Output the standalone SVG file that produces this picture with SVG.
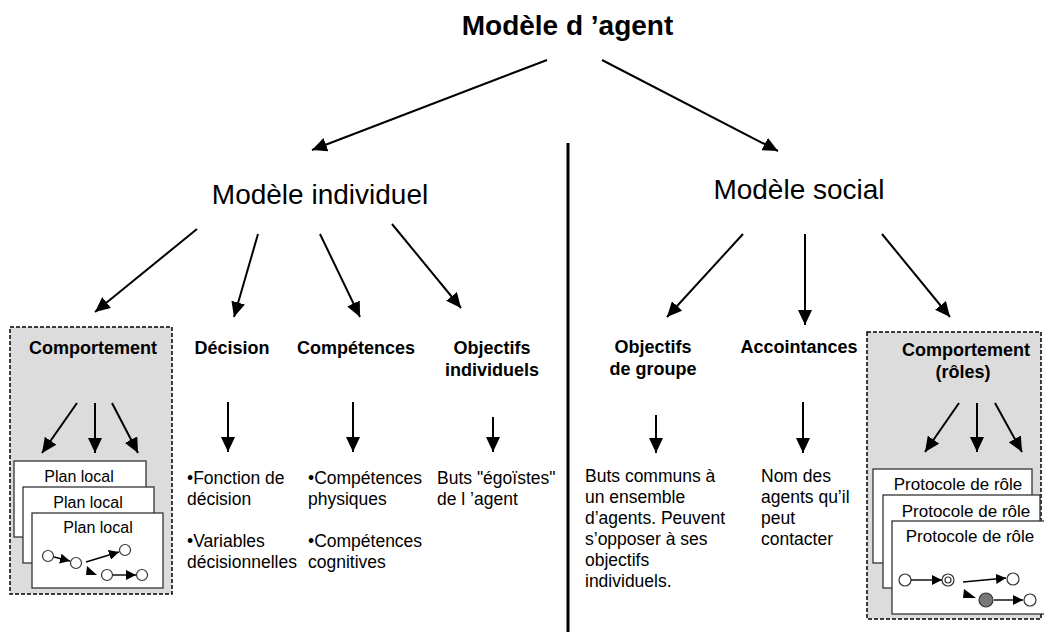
<svg xmlns="http://www.w3.org/2000/svg" width="1044" height="632" viewBox="0 0 1044 632">
<defs>
<marker id="ah" markerUnits="userSpaceOnUse" markerWidth="16" markerHeight="14" refX="15" refY="7" orient="auto">
<path d="M0,0 L15,7 L0,14 z" fill="#000"/>
</marker>
<marker id="ahs" markerUnits="userSpaceOnUse" markerWidth="11" markerHeight="10" refX="10" refY="5" orient="auto">
<path d="M0,0 L10,5 L0,10 z" fill="#000"/>
</marker>
<style>
text{font-family:"Liberation Sans",Arial,sans-serif;fill:#000}
.title{font-size:28px;font-weight:bold;text-anchor:middle}
.model{font-size:28px;text-anchor:middle}
.head{font-size:18px;font-weight:bold;text-anchor:middle}
.body{font-size:17.5px}
.small{font-size:16px;text-anchor:middle}
.proto{font-size:17px;text-anchor:middle}
.conn{stroke:#000;stroke-width:2;fill:none;marker-end:url(#ah)}
.inner{stroke:#000;stroke-width:1.4;fill:none;marker-end:url(#ahs)}
.group{fill:#dcdcdc;stroke:#000;stroke-width:1.5;stroke-dasharray:4 2}
.card{fill:#fff;stroke:#333;stroke-width:1.3}
.st{fill:#fff;stroke:#333;stroke-width:1.2}
</style>
</defs>
<rect width="1044" height="632" fill="#fff"/>

<g id="divider"><line x1="568" y1="143" x2="568" y2="632" stroke="#000" stroke-width="3"/></g>

<g id="connectors">
<line class="conn" x1="547" y1="60" x2="312" y2="150"/>
<line class="conn" x1="602" y1="60" x2="778" y2="151"/>
<line class="conn" x1="197" y1="229" x2="95" y2="312"/>
<line class="conn" x1="258" y1="234" x2="234" y2="317"/>
<line class="conn" x1="320" y1="234" x2="360" y2="317"/>
<line class="conn" x1="392" y1="224" x2="461" y2="308"/>
<line class="conn" x1="743" y1="234" x2="667" y2="317"/>
<line class="conn" x1="805" y1="234" x2="805" y2="325"/>
<line class="conn" x1="882" y1="234" x2="950" y2="317"/>
<line class="conn" x1="228" y1="402" x2="228" y2="452"/>
<line class="conn" x1="353" y1="402" x2="353" y2="452"/>
<line class="conn" x1="493" y1="417" x2="493" y2="452"/>
<line class="conn" x1="656" y1="415" x2="656" y2="453"/>
<line class="conn" x1="803" y1="402" x2="803" y2="453"/>
</g>

<g id="agent"><text class="title" x="567.5" y="35">Modèle d ’agent</text></g>
<g id="individuel"><text class="model" x="320" y="204">Modèle individuel</text></g>
<g id="social"><text class="model" x="799" y="199">Modèle social</text></g>

<g id="comportement">
<rect class="group" x="10" y="327" width="162" height="267"/>
<text class="head" x="93" y="354">Comportement</text>
<line class="conn" x1="77" y1="403" x2="42" y2="453"/>
<line class="conn" x1="95" y1="403" x2="95" y2="453"/>
<line class="conn" x1="112" y1="403" x2="138" y2="453"/>
<rect class="card" x="14" y="461" width="132" height="76"/>
<text class="small" x="79" y="482">Plan local</text>
<rect class="card" x="23" y="487" width="131" height="76"/>
<text class="small" x="88" y="508">Plan local</text>
<rect class="card" x="32" y="513" width="131" height="75"/>
<text class="small" x="98" y="533">Plan local</text>
<circle class="st" cx="48" cy="556" r="5.5"/>
<line class="inner" x1="54" y1="557" x2="70" y2="561"/>
<circle class="st" cx="76" cy="563" r="5.5"/>
<line class="inner" x1="86" y1="562" x2="119" y2="552"/>
<circle class="st" cx="125" cy="550" r="5.5"/>
<polygon points="87,566 97,575 86,575" fill="#000"/>
<circle class="st" cx="107" cy="575" r="5.5"/>
<line class="inner" x1="113" y1="575" x2="136" y2="575"/>
<circle class="st" cx="142" cy="575" r="5.5"/>
</g>

<g id="decision">
<text class="head" x="232" y="354">Décision</text>
<text class="body" x="187" y="484">•Fonction de</text>
<text class="body" x="187" y="505">décision</text>
<text class="body" x="187" y="547">•Variables</text>
<text class="body" x="187" y="568">décisionnelles</text>
</g>

<g id="competences">
<text class="head" x="356" y="354">Compétences</text>
<text class="body" x="308" y="484">•Compétences</text>
<text class="body" x="308" y="505">physiques</text>
<text class="body" x="308" y="547">•Compétences</text>
<text class="body" x="308" y="568">cognitives</text>
</g>

<g id="objectifs-individuels">
<text class="head" x="492" y="354">Objectifs</text>
<text class="head" x="492" y="376">individuels</text>
<text class="body" x="437" y="484">Buts "égoïstes"</text>
<text class="body" x="437" y="505">de l ’agent</text>
</g>

<g id="objectifs-groupe">
<text class="head" x="653" y="353">Objectifs</text>
<text class="head" x="653" y="375">de groupe</text>
<text class="body" x="585" y="482">Buts communs à</text>
<text class="body" x="585" y="503">un ensemble</text>
<text class="body" x="585" y="524">d’agents. Peuvent</text>
<text class="body" x="585" y="545">s’opposer à ses</text>
<text class="body" x="585" y="566">objectifs</text>
<text class="body" x="585" y="587">individuels.</text>
</g>

<g id="accointances">
<text class="head" x="799" y="353">Accointances</text>
<text class="body" x="761" y="482">Nom des</text>
<text class="body" x="761" y="503">agents qu’il</text>
<text class="body" x="761" y="524">peut</text>
<text class="body" x="761" y="545">contacter</text>
</g>

<g id="comportement-roles">
<rect class="group" x="867" y="332" width="174" height="287"/>
<text class="head" x="966" y="356">Comportement</text>
<text class="head" x="963" y="378">(rôles)</text>
<line class="conn" x1="959" y1="403" x2="925" y2="452"/>
<line class="conn" x1="977" y1="403" x2="977" y2="452"/>
<line class="conn" x1="995" y1="403" x2="1022" y2="452"/>
<rect class="card" x="873" y="469" width="159" height="94"/>
<text class="proto" x="958" y="490">Protocole de rôle</text>
<rect class="card" x="883" y="495" width="157" height="93"/>
<text class="proto" x="966" y="517">Protocole de rôle</text>
<rect class="card" x="892" y="521" width="160" height="93"/>
<text class="proto" x="970" y="542">Protocole de rôle</text>
<circle class="st" cx="905" cy="580" r="6"/>
<line class="inner" x1="911" y1="580" x2="942" y2="580"/>
<circle class="st" cx="948" cy="580" r="6"/>
<circle class="st" cx="948" cy="580" r="3"/>
<line class="inner" x1="963" y1="582" x2="1006" y2="578"/>
<circle class="st" cx="1013" cy="579" r="6"/>
<polygon points="964,589 976,598 963,598" fill="#000"/>
<circle cx="986" cy="600" r="7" fill="#777" stroke="#333" stroke-width="1.2"/>
<line class="inner" x1="994" y1="600" x2="1023" y2="600"/>
<circle class="st" cx="1030" cy="600" r="6"/>
</g>
</svg>
